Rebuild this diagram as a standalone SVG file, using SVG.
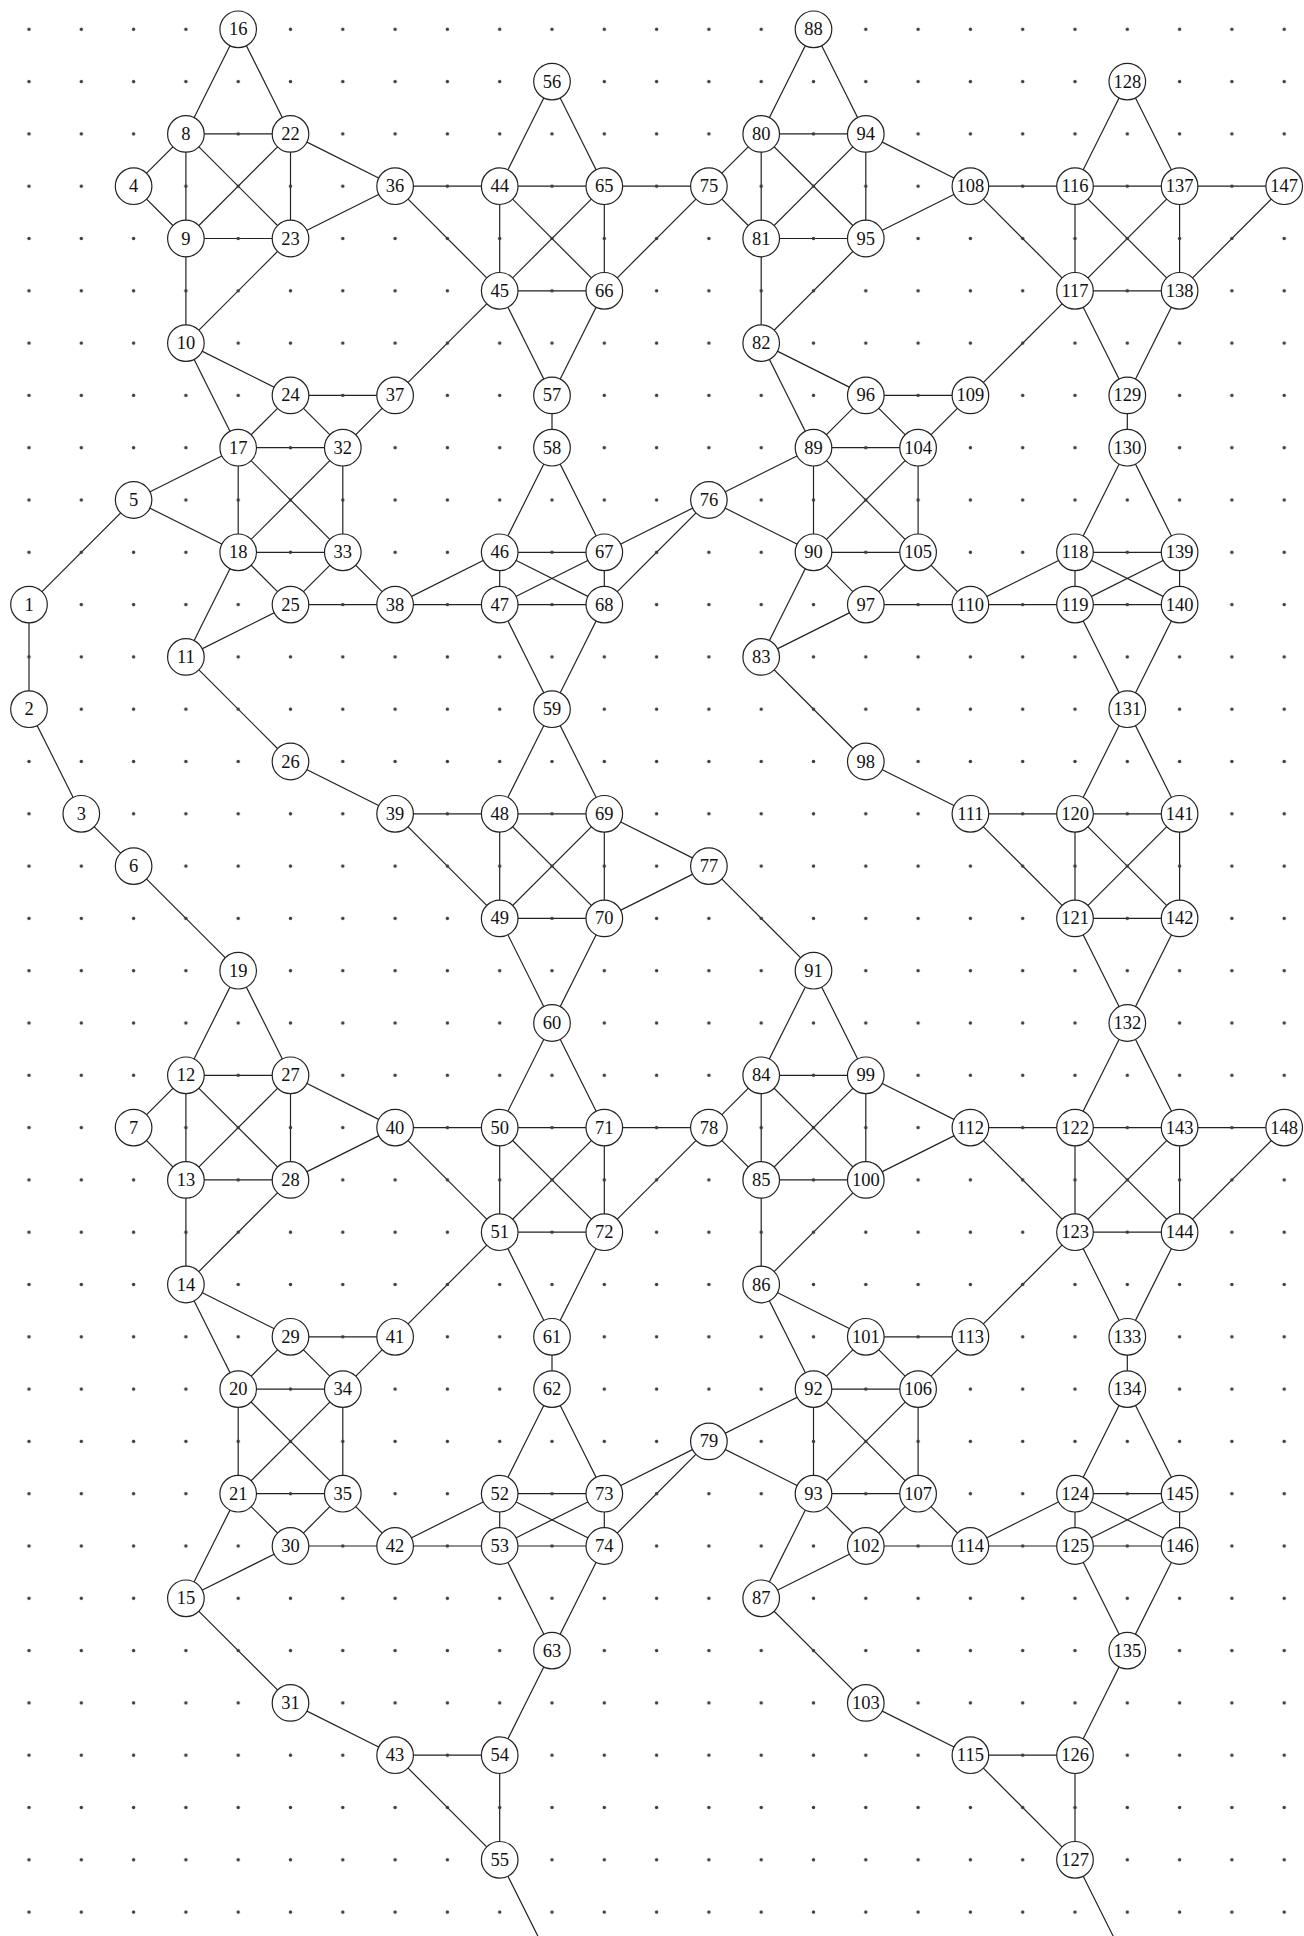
<svg xmlns="http://www.w3.org/2000/svg" width="1304" height="1936" viewBox="0 0 1304 1936">
<style>
.e line{stroke:#222;stroke-width:1.2;fill:none}
.n circle{fill:#fff;stroke:#222;stroke-width:1.2}
.n text{font-family:"Liberation Serif","DejaVu Serif",serif;font-size:18.5px;fill:#111;text-anchor:middle;dominant-baseline:central}
</style>
<defs>
<pattern id="grid" x="2.85" y="3.15" width="52.3" height="52.3" patternUnits="userSpaceOnUse">
<circle cx="26.15" cy="26.15" r="1.7" fill="#3a3a3a"/>
</pattern>
</defs>
<rect width="1304" height="1936" fill="#fff"/>
<g class="e" id="connectors">
<line x1="133.6" y1="500" x2="29" y2="604.6"/>
<line x1="29" y1="604.6" x2="29" y2="709.2"/>
<line x1="29" y1="709.2" x2="81.3" y2="813.8"/>
<line x1="81.3" y1="813.8" x2="133.6" y2="866.1"/>
<line x1="133.6" y1="866.1" x2="238.2" y2="970.7"/>
<line x1="238.2" y1="29.3" x2="185.9" y2="133.9"/>
<line x1="238.2" y1="29.3" x2="290.5" y2="133.9"/>
<line x1="185.9" y1="133.9" x2="290.5" y2="133.9"/>
<line x1="185.9" y1="133.9" x2="133.6" y2="186.2"/>
<line x1="185.9" y1="133.9" x2="185.9" y2="238.5"/>
<line x1="185.9" y1="133.9" x2="290.5" y2="238.5"/>
<line x1="290.5" y1="133.9" x2="185.9" y2="238.5"/>
<line x1="290.5" y1="133.9" x2="290.5" y2="238.5"/>
<line x1="290.5" y1="133.9" x2="395.1" y2="186.2"/>
<line x1="133.6" y1="186.2" x2="185.9" y2="238.5"/>
<line x1="185.9" y1="238.5" x2="290.5" y2="238.5"/>
<line x1="185.9" y1="238.5" x2="185.9" y2="343.1"/>
<line x1="290.5" y1="238.5" x2="395.1" y2="186.2"/>
<line x1="290.5" y1="238.5" x2="185.9" y2="343.1"/>
<line x1="185.9" y1="343.1" x2="290.5" y2="395.4"/>
<line x1="185.9" y1="343.1" x2="238.2" y2="447.7"/>
<line x1="290.5" y1="395.4" x2="395.1" y2="395.4"/>
<line x1="290.5" y1="395.4" x2="238.2" y2="447.7"/>
<line x1="290.5" y1="395.4" x2="342.8" y2="447.7"/>
<line x1="395.1" y1="395.4" x2="342.8" y2="447.7"/>
<line x1="395.1" y1="395.4" x2="499.7" y2="290.8"/>
<line x1="238.2" y1="447.7" x2="342.8" y2="447.7"/>
<line x1="238.2" y1="447.7" x2="133.6" y2="500"/>
<line x1="238.2" y1="447.7" x2="238.2" y2="552.3"/>
<line x1="238.2" y1="447.7" x2="342.8" y2="552.3"/>
<line x1="342.8" y1="447.7" x2="238.2" y2="552.3"/>
<line x1="342.8" y1="447.7" x2="342.8" y2="552.3"/>
<line x1="133.6" y1="500" x2="238.2" y2="552.3"/>
<line x1="238.2" y1="552.3" x2="342.8" y2="552.3"/>
<line x1="238.2" y1="552.3" x2="290.5" y2="604.6"/>
<line x1="238.2" y1="552.3" x2="185.9" y2="656.9"/>
<line x1="342.8" y1="552.3" x2="290.5" y2="604.6"/>
<line x1="342.8" y1="552.3" x2="395.1" y2="604.6"/>
<line x1="290.5" y1="604.6" x2="395.1" y2="604.6"/>
<line x1="290.5" y1="604.6" x2="185.9" y2="656.9"/>
<line x1="185.9" y1="656.9" x2="290.5" y2="761.5"/>
<line x1="290.5" y1="761.5" x2="395.1" y2="813.8"/>
<line x1="238.2" y1="970.7" x2="185.9" y2="1075.3"/>
<line x1="238.2" y1="970.7" x2="290.5" y2="1075.3"/>
<line x1="185.9" y1="1075.3" x2="290.5" y2="1075.3"/>
<line x1="185.9" y1="1075.3" x2="133.6" y2="1127.6"/>
<line x1="185.9" y1="1075.3" x2="185.9" y2="1179.9"/>
<line x1="185.9" y1="1075.3" x2="290.5" y2="1179.9"/>
<line x1="290.5" y1="1075.3" x2="185.9" y2="1179.9"/>
<line x1="290.5" y1="1075.3" x2="290.5" y2="1179.9"/>
<line x1="290.5" y1="1075.3" x2="395.1" y2="1127.6"/>
<line x1="133.6" y1="1127.6" x2="185.9" y2="1179.9"/>
<line x1="185.9" y1="1179.9" x2="290.5" y2="1179.9"/>
<line x1="185.9" y1="1179.9" x2="185.9" y2="1284.5"/>
<line x1="290.5" y1="1179.9" x2="395.1" y2="1127.6"/>
<line x1="290.5" y1="1179.9" x2="185.9" y2="1284.5"/>
<line x1="185.9" y1="1284.5" x2="290.5" y2="1336.8"/>
<line x1="185.9" y1="1284.5" x2="238.2" y2="1389.1"/>
<line x1="290.5" y1="1336.8" x2="395.1" y2="1336.8"/>
<line x1="290.5" y1="1336.8" x2="238.2" y2="1389.1"/>
<line x1="290.5" y1="1336.8" x2="342.8" y2="1389.1"/>
<line x1="395.1" y1="1336.8" x2="342.8" y2="1389.1"/>
<line x1="395.1" y1="1336.8" x2="499.7" y2="1232.2"/>
<line x1="238.2" y1="1389.1" x2="342.8" y2="1389.1"/>
<line x1="238.2" y1="1389.1" x2="238.2" y2="1493.7"/>
<line x1="238.2" y1="1389.1" x2="342.8" y2="1493.7"/>
<line x1="342.8" y1="1389.1" x2="238.2" y2="1493.7"/>
<line x1="342.8" y1="1389.1" x2="342.8" y2="1493.7"/>
<line x1="238.2" y1="1493.7" x2="342.8" y2="1493.7"/>
<line x1="238.2" y1="1493.7" x2="290.5" y2="1546"/>
<line x1="238.2" y1="1493.7" x2="185.9" y2="1598.3"/>
<line x1="342.8" y1="1493.7" x2="290.5" y2="1546"/>
<line x1="342.8" y1="1493.7" x2="395.1" y2="1546"/>
<line x1="290.5" y1="1546" x2="395.1" y2="1546"/>
<line x1="290.5" y1="1546" x2="185.9" y2="1598.3"/>
<line x1="185.9" y1="1598.3" x2="290.5" y2="1702.9"/>
<line x1="290.5" y1="1702.9" x2="395.1" y2="1755.2"/>
<line x1="395.1" y1="186.2" x2="499.7" y2="186.2"/>
<line x1="395.1" y1="186.2" x2="499.7" y2="290.8"/>
<line x1="499.7" y1="186.2" x2="552" y2="81.6"/>
<line x1="499.7" y1="186.2" x2="499.7" y2="290.8"/>
<line x1="499.7" y1="186.2" x2="604.3" y2="290.8"/>
<line x1="499.7" y1="186.2" x2="604.3" y2="186.2"/>
<line x1="552" y1="81.6" x2="604.3" y2="186.2"/>
<line x1="604.3" y1="186.2" x2="499.7" y2="290.8"/>
<line x1="604.3" y1="186.2" x2="604.3" y2="290.8"/>
<line x1="604.3" y1="186.2" x2="708.9" y2="186.2"/>
<line x1="499.7" y1="290.8" x2="604.3" y2="290.8"/>
<line x1="499.7" y1="290.8" x2="552" y2="395.4"/>
<line x1="604.3" y1="290.8" x2="552" y2="395.4"/>
<line x1="604.3" y1="290.8" x2="708.9" y2="186.2"/>
<line x1="552" y1="395.4" x2="552" y2="447.7"/>
<line x1="552" y1="447.7" x2="499.7" y2="552.3"/>
<line x1="552" y1="447.7" x2="604.3" y2="552.3"/>
<line x1="499.7" y1="552.3" x2="395.1" y2="604.6"/>
<line x1="499.7" y1="552.3" x2="499.7" y2="604.6"/>
<line x1="499.7" y1="552.3" x2="604.3" y2="552.3"/>
<line x1="499.7" y1="552.3" x2="604.3" y2="604.6"/>
<line x1="499.7" y1="604.6" x2="395.1" y2="604.6"/>
<line x1="499.7" y1="604.6" x2="604.3" y2="604.6"/>
<line x1="499.7" y1="604.6" x2="604.3" y2="552.3"/>
<line x1="499.7" y1="604.6" x2="552" y2="709.2"/>
<line x1="604.3" y1="552.3" x2="604.3" y2="604.6"/>
<line x1="604.3" y1="552.3" x2="708.9" y2="500"/>
<line x1="604.3" y1="604.6" x2="552" y2="709.2"/>
<line x1="604.3" y1="604.6" x2="708.9" y2="500"/>
<line x1="552" y1="709.2" x2="499.7" y2="813.8"/>
<line x1="552" y1="709.2" x2="604.3" y2="813.8"/>
<line x1="499.7" y1="813.8" x2="395.1" y2="813.8"/>
<line x1="499.7" y1="813.8" x2="604.3" y2="813.8"/>
<line x1="499.7" y1="813.8" x2="499.7" y2="918.4"/>
<line x1="499.7" y1="813.8" x2="604.3" y2="918.4"/>
<line x1="395.1" y1="813.8" x2="499.7" y2="918.4"/>
<line x1="604.3" y1="813.8" x2="499.7" y2="918.4"/>
<line x1="604.3" y1="813.8" x2="604.3" y2="918.4"/>
<line x1="604.3" y1="813.8" x2="708.9" y2="866.1"/>
<line x1="499.7" y1="918.4" x2="604.3" y2="918.4"/>
<line x1="499.7" y1="918.4" x2="552" y2="1023"/>
<line x1="604.3" y1="918.4" x2="552" y2="1023"/>
<line x1="604.3" y1="918.4" x2="708.9" y2="866.1"/>
<line x1="708.9" y1="866.1" x2="813.5" y2="970.7"/>
<line x1="395.1" y1="1127.6" x2="499.7" y2="1127.6"/>
<line x1="395.1" y1="1127.6" x2="499.7" y2="1232.2"/>
<line x1="499.7" y1="1127.6" x2="552" y2="1023"/>
<line x1="499.7" y1="1127.6" x2="499.7" y2="1232.2"/>
<line x1="499.7" y1="1127.6" x2="604.3" y2="1232.2"/>
<line x1="499.7" y1="1127.6" x2="604.3" y2="1127.6"/>
<line x1="552" y1="1023" x2="604.3" y2="1127.6"/>
<line x1="604.3" y1="1127.6" x2="499.7" y2="1232.2"/>
<line x1="604.3" y1="1127.6" x2="604.3" y2="1232.2"/>
<line x1="604.3" y1="1127.6" x2="708.9" y2="1127.6"/>
<line x1="499.7" y1="1232.2" x2="604.3" y2="1232.2"/>
<line x1="499.7" y1="1232.2" x2="552" y2="1336.8"/>
<line x1="604.3" y1="1232.2" x2="552" y2="1336.8"/>
<line x1="604.3" y1="1232.2" x2="708.9" y2="1127.6"/>
<line x1="552" y1="1336.8" x2="552" y2="1389.1"/>
<line x1="552" y1="1389.1" x2="499.7" y2="1493.7"/>
<line x1="552" y1="1389.1" x2="604.3" y2="1493.7"/>
<line x1="499.7" y1="1493.7" x2="395.1" y2="1546"/>
<line x1="499.7" y1="1493.7" x2="499.7" y2="1546"/>
<line x1="499.7" y1="1493.7" x2="604.3" y2="1493.7"/>
<line x1="499.7" y1="1493.7" x2="604.3" y2="1546"/>
<line x1="499.7" y1="1546" x2="395.1" y2="1546"/>
<line x1="499.7" y1="1546" x2="604.3" y2="1546"/>
<line x1="499.7" y1="1546" x2="604.3" y2="1493.7"/>
<line x1="499.7" y1="1546" x2="552" y2="1650.6"/>
<line x1="604.3" y1="1493.7" x2="604.3" y2="1546"/>
<line x1="604.3" y1="1493.7" x2="708.9" y2="1441.4"/>
<line x1="604.3" y1="1546" x2="552" y2="1650.6"/>
<line x1="604.3" y1="1546" x2="708.9" y2="1441.4"/>
<line x1="552" y1="1650.6" x2="499.7" y2="1755.2"/>
<line x1="499.7" y1="1755.2" x2="395.1" y2="1755.2"/>
<line x1="499.7" y1="1755.2" x2="499.7" y2="1859.8"/>
<line x1="395.1" y1="1755.2" x2="499.7" y2="1859.8"/>
<line x1="499.7" y1="1859.8" x2="552" y2="1964.4"/>
<line x1="813.5" y1="29.3" x2="761.2" y2="133.9"/>
<line x1="813.5" y1="29.3" x2="865.8" y2="133.9"/>
<line x1="761.2" y1="133.9" x2="865.8" y2="133.9"/>
<line x1="761.2" y1="133.9" x2="761.2" y2="238.5"/>
<line x1="761.2" y1="133.9" x2="865.8" y2="238.5"/>
<line x1="761.2" y1="133.9" x2="708.9" y2="186.2"/>
<line x1="865.8" y1="133.9" x2="761.2" y2="238.5"/>
<line x1="865.8" y1="133.9" x2="865.8" y2="238.5"/>
<line x1="865.8" y1="133.9" x2="970.4" y2="186.2"/>
<line x1="708.9" y1="186.2" x2="761.2" y2="238.5"/>
<line x1="761.2" y1="238.5" x2="865.8" y2="238.5"/>
<line x1="761.2" y1="238.5" x2="761.2" y2="343.1"/>
<line x1="865.8" y1="238.5" x2="970.4" y2="186.2"/>
<line x1="865.8" y1="238.5" x2="761.2" y2="343.1"/>
<line x1="761.2" y1="343.1" x2="865.8" y2="395.4"/>
<line x1="761.2" y1="343.1" x2="813.5" y2="447.7"/>
<line x1="865.8" y1="395.4" x2="970.4" y2="395.4"/>
<line x1="865.8" y1="395.4" x2="813.5" y2="447.7"/>
<line x1="865.8" y1="395.4" x2="918.1" y2="447.7"/>
<line x1="970.4" y1="395.4" x2="918.1" y2="447.7"/>
<line x1="970.4" y1="395.4" x2="1075" y2="290.8"/>
<line x1="813.5" y1="447.7" x2="918.1" y2="447.7"/>
<line x1="813.5" y1="447.7" x2="813.5" y2="552.3"/>
<line x1="813.5" y1="447.7" x2="918.1" y2="552.3"/>
<line x1="813.5" y1="447.7" x2="708.9" y2="500"/>
<line x1="918.1" y1="447.7" x2="813.5" y2="552.3"/>
<line x1="918.1" y1="447.7" x2="918.1" y2="552.3"/>
<line x1="708.9" y1="500" x2="813.5" y2="552.3"/>
<line x1="813.5" y1="552.3" x2="918.1" y2="552.3"/>
<line x1="813.5" y1="552.3" x2="865.8" y2="604.6"/>
<line x1="813.5" y1="552.3" x2="761.2" y2="656.9"/>
<line x1="918.1" y1="552.3" x2="865.8" y2="604.6"/>
<line x1="918.1" y1="552.3" x2="970.4" y2="604.6"/>
<line x1="865.8" y1="604.6" x2="970.4" y2="604.6"/>
<line x1="865.8" y1="604.6" x2="761.2" y2="656.9"/>
<line x1="761.2" y1="656.9" x2="865.8" y2="761.5"/>
<line x1="865.8" y1="761.5" x2="970.4" y2="813.8"/>
<line x1="813.5" y1="970.7" x2="761.2" y2="1075.3"/>
<line x1="813.5" y1="970.7" x2="865.8" y2="1075.3"/>
<line x1="761.2" y1="1075.3" x2="865.8" y2="1075.3"/>
<line x1="761.2" y1="1075.3" x2="761.2" y2="1179.9"/>
<line x1="761.2" y1="1075.3" x2="865.8" y2="1179.9"/>
<line x1="761.2" y1="1075.3" x2="708.9" y2="1127.6"/>
<line x1="865.8" y1="1075.3" x2="761.2" y2="1179.9"/>
<line x1="865.8" y1="1075.3" x2="865.8" y2="1179.9"/>
<line x1="865.8" y1="1075.3" x2="970.4" y2="1127.6"/>
<line x1="708.9" y1="1127.6" x2="761.2" y2="1179.9"/>
<line x1="761.2" y1="1179.9" x2="865.8" y2="1179.9"/>
<line x1="761.2" y1="1179.9" x2="761.2" y2="1284.5"/>
<line x1="865.8" y1="1179.9" x2="970.4" y2="1127.6"/>
<line x1="865.8" y1="1179.9" x2="761.2" y2="1284.5"/>
<line x1="761.2" y1="1284.5" x2="865.8" y2="1336.8"/>
<line x1="761.2" y1="1284.5" x2="813.5" y2="1389.1"/>
<line x1="865.8" y1="1336.8" x2="970.4" y2="1336.8"/>
<line x1="865.8" y1="1336.8" x2="813.5" y2="1389.1"/>
<line x1="865.8" y1="1336.8" x2="918.1" y2="1389.1"/>
<line x1="970.4" y1="1336.8" x2="918.1" y2="1389.1"/>
<line x1="970.4" y1="1336.8" x2="1075" y2="1232.2"/>
<line x1="813.5" y1="1389.1" x2="918.1" y2="1389.1"/>
<line x1="813.5" y1="1389.1" x2="813.5" y2="1493.7"/>
<line x1="813.5" y1="1389.1" x2="918.1" y2="1493.7"/>
<line x1="813.5" y1="1389.1" x2="708.9" y2="1441.4"/>
<line x1="918.1" y1="1389.1" x2="813.5" y2="1493.7"/>
<line x1="918.1" y1="1389.1" x2="918.1" y2="1493.7"/>
<line x1="708.9" y1="1441.4" x2="813.5" y2="1493.7"/>
<line x1="813.5" y1="1493.7" x2="918.1" y2="1493.7"/>
<line x1="813.5" y1="1493.7" x2="865.8" y2="1546"/>
<line x1="813.5" y1="1493.7" x2="761.2" y2="1598.3"/>
<line x1="918.1" y1="1493.7" x2="865.8" y2="1546"/>
<line x1="918.1" y1="1493.7" x2="970.4" y2="1546"/>
<line x1="865.8" y1="1546" x2="970.4" y2="1546"/>
<line x1="865.8" y1="1546" x2="761.2" y2="1598.3"/>
<line x1="761.2" y1="1598.3" x2="865.8" y2="1702.9"/>
<line x1="865.8" y1="1702.9" x2="970.4" y2="1755.2"/>
<line x1="970.4" y1="186.2" x2="1075" y2="186.2"/>
<line x1="970.4" y1="186.2" x2="1075" y2="290.8"/>
<line x1="1075" y1="186.2" x2="1127.3" y2="81.6"/>
<line x1="1075" y1="186.2" x2="1179.6" y2="186.2"/>
<line x1="1075" y1="186.2" x2="1075" y2="290.8"/>
<line x1="1075" y1="186.2" x2="1179.6" y2="290.8"/>
<line x1="1127.3" y1="81.6" x2="1179.6" y2="186.2"/>
<line x1="1179.6" y1="186.2" x2="1284.2" y2="186.2"/>
<line x1="1179.6" y1="186.2" x2="1075" y2="290.8"/>
<line x1="1179.6" y1="186.2" x2="1179.6" y2="290.8"/>
<line x1="1075" y1="290.8" x2="1179.6" y2="290.8"/>
<line x1="1075" y1="290.8" x2="1127.3" y2="395.4"/>
<line x1="1179.6" y1="290.8" x2="1127.3" y2="395.4"/>
<line x1="1179.6" y1="290.8" x2="1284.2" y2="186.2"/>
<line x1="1127.3" y1="395.4" x2="1127.3" y2="447.7"/>
<line x1="1127.3" y1="447.7" x2="1075" y2="552.3"/>
<line x1="1127.3" y1="447.7" x2="1179.6" y2="552.3"/>
<line x1="1075" y1="552.3" x2="1179.6" y2="552.3"/>
<line x1="1075" y1="552.3" x2="1075" y2="604.6"/>
<line x1="1075" y1="552.3" x2="1179.6" y2="604.6"/>
<line x1="1075" y1="552.3" x2="970.4" y2="604.6"/>
<line x1="1179.6" y1="552.3" x2="1075" y2="604.6"/>
<line x1="1179.6" y1="552.3" x2="1179.6" y2="604.6"/>
<line x1="970.4" y1="604.6" x2="1075" y2="604.6"/>
<line x1="1075" y1="604.6" x2="1179.6" y2="604.6"/>
<line x1="1075" y1="604.6" x2="1127.3" y2="709.2"/>
<line x1="1179.6" y1="604.6" x2="1127.3" y2="709.2"/>
<line x1="1127.3" y1="709.2" x2="1075" y2="813.8"/>
<line x1="1127.3" y1="709.2" x2="1179.6" y2="813.8"/>
<line x1="970.4" y1="813.8" x2="1075" y2="813.8"/>
<line x1="970.4" y1="813.8" x2="1075" y2="918.4"/>
<line x1="1075" y1="813.8" x2="1179.6" y2="813.8"/>
<line x1="1075" y1="813.8" x2="1075" y2="918.4"/>
<line x1="1075" y1="813.8" x2="1179.6" y2="918.4"/>
<line x1="1179.6" y1="813.8" x2="1075" y2="918.4"/>
<line x1="1179.6" y1="813.8" x2="1179.6" y2="918.4"/>
<line x1="1075" y1="918.4" x2="1179.6" y2="918.4"/>
<line x1="1075" y1="918.4" x2="1127.3" y2="1023"/>
<line x1="1179.6" y1="918.4" x2="1127.3" y2="1023"/>
<line x1="970.4" y1="1127.6" x2="1075" y2="1127.6"/>
<line x1="970.4" y1="1127.6" x2="1075" y2="1232.2"/>
<line x1="1075" y1="1127.6" x2="1127.3" y2="1023"/>
<line x1="1075" y1="1127.6" x2="1179.6" y2="1127.6"/>
<line x1="1075" y1="1127.6" x2="1075" y2="1232.2"/>
<line x1="1075" y1="1127.6" x2="1179.6" y2="1232.2"/>
<line x1="1127.3" y1="1023" x2="1179.6" y2="1127.6"/>
<line x1="1179.6" y1="1127.6" x2="1284.2" y2="1127.6"/>
<line x1="1179.6" y1="1127.6" x2="1075" y2="1232.2"/>
<line x1="1179.6" y1="1127.6" x2="1179.6" y2="1232.2"/>
<line x1="1075" y1="1232.2" x2="1179.6" y2="1232.2"/>
<line x1="1075" y1="1232.2" x2="1127.3" y2="1336.8"/>
<line x1="1179.6" y1="1232.2" x2="1127.3" y2="1336.8"/>
<line x1="1179.6" y1="1232.2" x2="1284.2" y2="1127.6"/>
<line x1="1127.3" y1="1336.8" x2="1127.3" y2="1389.1"/>
<line x1="1127.3" y1="1389.1" x2="1075" y2="1493.7"/>
<line x1="1127.3" y1="1389.1" x2="1179.6" y2="1493.7"/>
<line x1="1075" y1="1493.7" x2="1179.6" y2="1493.7"/>
<line x1="1075" y1="1493.7" x2="1075" y2="1546"/>
<line x1="1075" y1="1493.7" x2="1179.6" y2="1546"/>
<line x1="1075" y1="1493.7" x2="970.4" y2="1546"/>
<line x1="1179.6" y1="1493.7" x2="1075" y2="1546"/>
<line x1="1179.6" y1="1493.7" x2="1179.6" y2="1546"/>
<line x1="970.4" y1="1546" x2="1075" y2="1546"/>
<line x1="1075" y1="1546" x2="1179.6" y2="1546"/>
<line x1="1075" y1="1546" x2="1127.3" y2="1650.6"/>
<line x1="1179.6" y1="1546" x2="1127.3" y2="1650.6"/>
<line x1="1127.3" y1="1650.6" x2="1075" y2="1755.2"/>
<line x1="970.4" y1="1755.2" x2="1075" y2="1755.2"/>
<line x1="970.4" y1="1755.2" x2="1075" y2="1859.8"/>
<line x1="1075" y1="1755.2" x2="1075" y2="1859.8"/>
<line x1="1075" y1="1859.8" x2="1127.3" y2="1964.4"/>
</g>
<rect id="grid-dots" width="1304" height="1936" fill="url(#grid)"/>
<g class="n">
<g id="n1"><circle cx="29" cy="604.6" r="18.3"/><text x="29" y="604.6">1</text></g>
<g id="n2"><circle cx="29" cy="709.2" r="18.3"/><text x="29" y="709.2">2</text></g>
<g id="n3"><circle cx="81.3" cy="813.8" r="18.3"/><text x="81.3" y="813.8">3</text></g>
<g id="n4"><circle cx="133.6" cy="186.2" r="18.3"/><text x="133.6" y="186.2">4</text></g>
<g id="n5"><circle cx="133.6" cy="500" r="18.3"/><text x="133.6" y="500">5</text></g>
<g id="n6"><circle cx="133.6" cy="866.1" r="18.3"/><text x="133.6" y="866.1">6</text></g>
<g id="n7"><circle cx="133.6" cy="1127.6" r="18.3"/><text x="133.6" y="1127.6">7</text></g>
<g id="n8"><circle cx="185.9" cy="133.9" r="18.3"/><text x="185.9" y="133.9">8</text></g>
<g id="n9"><circle cx="185.9" cy="238.5" r="18.3"/><text x="185.9" y="238.5">9</text></g>
<g id="n10"><circle cx="185.9" cy="343.1" r="18.3"/><text x="185.9" y="343.1">10</text></g>
<g id="n11"><circle cx="185.9" cy="656.9" r="18.3"/><text x="185.9" y="656.9">11</text></g>
<g id="n12"><circle cx="185.9" cy="1075.3" r="18.3"/><text x="185.9" y="1075.3">12</text></g>
<g id="n13"><circle cx="185.9" cy="1179.9" r="18.3"/><text x="185.9" y="1179.9">13</text></g>
<g id="n14"><circle cx="185.9" cy="1284.5" r="18.3"/><text x="185.9" y="1284.5">14</text></g>
<g id="n15"><circle cx="185.9" cy="1598.3" r="18.3"/><text x="185.9" y="1598.3">15</text></g>
<g id="n16"><circle cx="238.2" cy="29.3" r="18.3"/><text x="238.2" y="29.3">16</text></g>
<g id="n17"><circle cx="238.2" cy="447.7" r="18.3"/><text x="238.2" y="447.7">17</text></g>
<g id="n18"><circle cx="238.2" cy="552.3" r="18.3"/><text x="238.2" y="552.3">18</text></g>
<g id="n19"><circle cx="238.2" cy="970.7" r="18.3"/><text x="238.2" y="970.7">19</text></g>
<g id="n20"><circle cx="238.2" cy="1389.1" r="18.3"/><text x="238.2" y="1389.1">20</text></g>
<g id="n21"><circle cx="238.2" cy="1493.7" r="18.3"/><text x="238.2" y="1493.7">21</text></g>
<g id="n22"><circle cx="290.5" cy="133.9" r="18.3"/><text x="290.5" y="133.9">22</text></g>
<g id="n23"><circle cx="290.5" cy="238.5" r="18.3"/><text x="290.5" y="238.5">23</text></g>
<g id="n24"><circle cx="290.5" cy="395.4" r="18.3"/><text x="290.5" y="395.4">24</text></g>
<g id="n25"><circle cx="290.5" cy="604.6" r="18.3"/><text x="290.5" y="604.6">25</text></g>
<g id="n26"><circle cx="290.5" cy="761.5" r="18.3"/><text x="290.5" y="761.5">26</text></g>
<g id="n27"><circle cx="290.5" cy="1075.3" r="18.3"/><text x="290.5" y="1075.3">27</text></g>
<g id="n28"><circle cx="290.5" cy="1179.9" r="18.3"/><text x="290.5" y="1179.9">28</text></g>
<g id="n29"><circle cx="290.5" cy="1336.8" r="18.3"/><text x="290.5" y="1336.8">29</text></g>
<g id="n30"><circle cx="290.5" cy="1546" r="18.3"/><text x="290.5" y="1546">30</text></g>
<g id="n31"><circle cx="290.5" cy="1702.9" r="18.3"/><text x="290.5" y="1702.9">31</text></g>
<g id="n32"><circle cx="342.8" cy="447.7" r="18.3"/><text x="342.8" y="447.7">32</text></g>
<g id="n33"><circle cx="342.8" cy="552.3" r="18.3"/><text x="342.8" y="552.3">33</text></g>
<g id="n34"><circle cx="342.8" cy="1389.1" r="18.3"/><text x="342.8" y="1389.1">34</text></g>
<g id="n35"><circle cx="342.8" cy="1493.7" r="18.3"/><text x="342.8" y="1493.7">35</text></g>
<g id="n36"><circle cx="395.1" cy="186.2" r="18.3"/><text x="395.1" y="186.2">36</text></g>
<g id="n37"><circle cx="395.1" cy="395.4" r="18.3"/><text x="395.1" y="395.4">37</text></g>
<g id="n38"><circle cx="395.1" cy="604.6" r="18.3"/><text x="395.1" y="604.6">38</text></g>
<g id="n39"><circle cx="395.1" cy="813.8" r="18.3"/><text x="395.1" y="813.8">39</text></g>
<g id="n40"><circle cx="395.1" cy="1127.6" r="18.3"/><text x="395.1" y="1127.6">40</text></g>
<g id="n41"><circle cx="395.1" cy="1336.8" r="18.3"/><text x="395.1" y="1336.8">41</text></g>
<g id="n42"><circle cx="395.1" cy="1546" r="18.3"/><text x="395.1" y="1546">42</text></g>
<g id="n43"><circle cx="395.1" cy="1755.2" r="18.3"/><text x="395.1" y="1755.2">43</text></g>
<g id="n44"><circle cx="499.7" cy="186.2" r="18.3"/><text x="499.7" y="186.2">44</text></g>
<g id="n45"><circle cx="499.7" cy="290.8" r="18.3"/><text x="499.7" y="290.8">45</text></g>
<g id="n46"><circle cx="499.7" cy="552.3" r="18.3"/><text x="499.7" y="552.3">46</text></g>
<g id="n47"><circle cx="499.7" cy="604.6" r="18.3"/><text x="499.7" y="604.6">47</text></g>
<g id="n48"><circle cx="499.7" cy="813.8" r="18.3"/><text x="499.7" y="813.8">48</text></g>
<g id="n49"><circle cx="499.7" cy="918.4" r="18.3"/><text x="499.7" y="918.4">49</text></g>
<g id="n50"><circle cx="499.7" cy="1127.6" r="18.3"/><text x="499.7" y="1127.6">50</text></g>
<g id="n51"><circle cx="499.7" cy="1232.2" r="18.3"/><text x="499.7" y="1232.2">51</text></g>
<g id="n52"><circle cx="499.7" cy="1493.7" r="18.3"/><text x="499.7" y="1493.7">52</text></g>
<g id="n53"><circle cx="499.7" cy="1546" r="18.3"/><text x="499.7" y="1546">53</text></g>
<g id="n54"><circle cx="499.7" cy="1755.2" r="18.3"/><text x="499.7" y="1755.2">54</text></g>
<g id="n55"><circle cx="499.7" cy="1859.8" r="18.3"/><text x="499.7" y="1859.8">55</text></g>
<g id="n56"><circle cx="552" cy="81.6" r="18.3"/><text x="552" y="81.6">56</text></g>
<g id="n57"><circle cx="552" cy="395.4" r="18.3"/><text x="552" y="395.4">57</text></g>
<g id="n58"><circle cx="552" cy="447.7" r="18.3"/><text x="552" y="447.7">58</text></g>
<g id="n59"><circle cx="552" cy="709.2" r="18.3"/><text x="552" y="709.2">59</text></g>
<g id="n60"><circle cx="552" cy="1023" r="18.3"/><text x="552" y="1023">60</text></g>
<g id="n61"><circle cx="552" cy="1336.8" r="18.3"/><text x="552" y="1336.8">61</text></g>
<g id="n62"><circle cx="552" cy="1389.1" r="18.3"/><text x="552" y="1389.1">62</text></g>
<g id="n63"><circle cx="552" cy="1650.6" r="18.3"/><text x="552" y="1650.6">63</text></g>
<g id="n65"><circle cx="604.3" cy="186.2" r="18.3"/><text x="604.3" y="186.2">65</text></g>
<g id="n66"><circle cx="604.3" cy="290.8" r="18.3"/><text x="604.3" y="290.8">66</text></g>
<g id="n67"><circle cx="604.3" cy="552.3" r="18.3"/><text x="604.3" y="552.3">67</text></g>
<g id="n68"><circle cx="604.3" cy="604.6" r="18.3"/><text x="604.3" y="604.6">68</text></g>
<g id="n69"><circle cx="604.3" cy="813.8" r="18.3"/><text x="604.3" y="813.8">69</text></g>
<g id="n70"><circle cx="604.3" cy="918.4" r="18.3"/><text x="604.3" y="918.4">70</text></g>
<g id="n71"><circle cx="604.3" cy="1127.6" r="18.3"/><text x="604.3" y="1127.6">71</text></g>
<g id="n72"><circle cx="604.3" cy="1232.2" r="18.3"/><text x="604.3" y="1232.2">72</text></g>
<g id="n73"><circle cx="604.3" cy="1493.7" r="18.3"/><text x="604.3" y="1493.7">73</text></g>
<g id="n74"><circle cx="604.3" cy="1546" r="18.3"/><text x="604.3" y="1546">74</text></g>
<g id="n75"><circle cx="708.9" cy="186.2" r="18.3"/><text x="708.9" y="186.2">75</text></g>
<g id="n76"><circle cx="708.9" cy="500" r="18.3"/><text x="708.9" y="500">76</text></g>
<g id="n77"><circle cx="708.9" cy="866.1" r="18.3"/><text x="708.9" y="866.1">77</text></g>
<g id="n78"><circle cx="708.9" cy="1127.6" r="18.3"/><text x="708.9" y="1127.6">78</text></g>
<g id="n79"><circle cx="708.9" cy="1441.4" r="18.3"/><text x="708.9" y="1441.4">79</text></g>
<g id="n80"><circle cx="761.2" cy="133.9" r="18.3"/><text x="761.2" y="133.9">80</text></g>
<g id="n81"><circle cx="761.2" cy="238.5" r="18.3"/><text x="761.2" y="238.5">81</text></g>
<g id="n82"><circle cx="761.2" cy="343.1" r="18.3"/><text x="761.2" y="343.1">82</text></g>
<g id="n83"><circle cx="761.2" cy="656.9" r="18.3"/><text x="761.2" y="656.9">83</text></g>
<g id="n84"><circle cx="761.2" cy="1075.3" r="18.3"/><text x="761.2" y="1075.3">84</text></g>
<g id="n85"><circle cx="761.2" cy="1179.9" r="18.3"/><text x="761.2" y="1179.9">85</text></g>
<g id="n86"><circle cx="761.2" cy="1284.5" r="18.3"/><text x="761.2" y="1284.5">86</text></g>
<g id="n87"><circle cx="761.2" cy="1598.3" r="18.3"/><text x="761.2" y="1598.3">87</text></g>
<g id="n88"><circle cx="813.5" cy="29.3" r="18.3"/><text x="813.5" y="29.3">88</text></g>
<g id="n89"><circle cx="813.5" cy="447.7" r="18.3"/><text x="813.5" y="447.7">89</text></g>
<g id="n90"><circle cx="813.5" cy="552.3" r="18.3"/><text x="813.5" y="552.3">90</text></g>
<g id="n91"><circle cx="813.5" cy="970.7" r="18.3"/><text x="813.5" y="970.7">91</text></g>
<g id="n92"><circle cx="813.5" cy="1389.1" r="18.3"/><text x="813.5" y="1389.1">92</text></g>
<g id="n93"><circle cx="813.5" cy="1493.7" r="18.3"/><text x="813.5" y="1493.7">93</text></g>
<g id="n94"><circle cx="865.8" cy="133.9" r="18.3"/><text x="865.8" y="133.9">94</text></g>
<g id="n95"><circle cx="865.8" cy="238.5" r="18.3"/><text x="865.8" y="238.5">95</text></g>
<g id="n96"><circle cx="865.8" cy="395.4" r="18.3"/><text x="865.8" y="395.4">96</text></g>
<g id="n97"><circle cx="865.8" cy="604.6" r="18.3"/><text x="865.8" y="604.6">97</text></g>
<g id="n98"><circle cx="865.8" cy="761.5" r="18.3"/><text x="865.8" y="761.5">98</text></g>
<g id="n99"><circle cx="865.8" cy="1075.3" r="18.3"/><text x="865.8" y="1075.3">99</text></g>
<g id="n100"><circle cx="865.8" cy="1179.9" r="18.3"/><text x="865.8" y="1179.9">100</text></g>
<g id="n101"><circle cx="865.8" cy="1336.8" r="18.3"/><text x="865.8" y="1336.8">101</text></g>
<g id="n102"><circle cx="865.8" cy="1546" r="18.3"/><text x="865.8" y="1546">102</text></g>
<g id="n103"><circle cx="865.8" cy="1702.9" r="18.3"/><text x="865.8" y="1702.9">103</text></g>
<g id="n104"><circle cx="918.1" cy="447.7" r="18.3"/><text x="918.1" y="447.7">104</text></g>
<g id="n105"><circle cx="918.1" cy="552.3" r="18.3"/><text x="918.1" y="552.3">105</text></g>
<g id="n106"><circle cx="918.1" cy="1389.1" r="18.3"/><text x="918.1" y="1389.1">106</text></g>
<g id="n107"><circle cx="918.1" cy="1493.7" r="18.3"/><text x="918.1" y="1493.7">107</text></g>
<g id="n108"><circle cx="970.4" cy="186.2" r="18.3"/><text x="970.4" y="186.2">108</text></g>
<g id="n109"><circle cx="970.4" cy="395.4" r="18.3"/><text x="970.4" y="395.4">109</text></g>
<g id="n110"><circle cx="970.4" cy="604.6" r="18.3"/><text x="970.4" y="604.6">110</text></g>
<g id="n111"><circle cx="970.4" cy="813.8" r="18.3"/><text x="970.4" y="813.8">111</text></g>
<g id="n112"><circle cx="970.4" cy="1127.6" r="18.3"/><text x="970.4" y="1127.6">112</text></g>
<g id="n113"><circle cx="970.4" cy="1336.8" r="18.3"/><text x="970.4" y="1336.8">113</text></g>
<g id="n114"><circle cx="970.4" cy="1546" r="18.3"/><text x="970.4" y="1546">114</text></g>
<g id="n115"><circle cx="970.4" cy="1755.2" r="18.3"/><text x="970.4" y="1755.2">115</text></g>
<g id="n116"><circle cx="1075" cy="186.2" r="18.3"/><text x="1075" y="186.2">116</text></g>
<g id="n117"><circle cx="1075" cy="290.8" r="18.3"/><text x="1075" y="290.8">117</text></g>
<g id="n118"><circle cx="1075" cy="552.3" r="18.3"/><text x="1075" y="552.3">118</text></g>
<g id="n119"><circle cx="1075" cy="604.6" r="18.3"/><text x="1075" y="604.6">119</text></g>
<g id="n120"><circle cx="1075" cy="813.8" r="18.3"/><text x="1075" y="813.8">120</text></g>
<g id="n121"><circle cx="1075" cy="918.4" r="18.3"/><text x="1075" y="918.4">121</text></g>
<g id="n122"><circle cx="1075" cy="1127.6" r="18.3"/><text x="1075" y="1127.6">122</text></g>
<g id="n123"><circle cx="1075" cy="1232.2" r="18.3"/><text x="1075" y="1232.2">123</text></g>
<g id="n124"><circle cx="1075" cy="1493.7" r="18.3"/><text x="1075" y="1493.7">124</text></g>
<g id="n125"><circle cx="1075" cy="1546" r="18.3"/><text x="1075" y="1546">125</text></g>
<g id="n126"><circle cx="1075" cy="1755.2" r="18.3"/><text x="1075" y="1755.2">126</text></g>
<g id="n127"><circle cx="1075" cy="1859.8" r="18.3"/><text x="1075" y="1859.8">127</text></g>
<g id="n128"><circle cx="1127.3" cy="81.6" r="18.3"/><text x="1127.3" y="81.6">128</text></g>
<g id="n129"><circle cx="1127.3" cy="395.4" r="18.3"/><text x="1127.3" y="395.4">129</text></g>
<g id="n130"><circle cx="1127.3" cy="447.7" r="18.3"/><text x="1127.3" y="447.7">130</text></g>
<g id="n131"><circle cx="1127.3" cy="709.2" r="18.3"/><text x="1127.3" y="709.2">131</text></g>
<g id="n132"><circle cx="1127.3" cy="1023" r="18.3"/><text x="1127.3" y="1023">132</text></g>
<g id="n133"><circle cx="1127.3" cy="1336.8" r="18.3"/><text x="1127.3" y="1336.8">133</text></g>
<g id="n134"><circle cx="1127.3" cy="1389.1" r="18.3"/><text x="1127.3" y="1389.1">134</text></g>
<g id="n135"><circle cx="1127.3" cy="1650.6" r="18.3"/><text x="1127.3" y="1650.6">135</text></g>
<g id="n137"><circle cx="1179.6" cy="186.2" r="18.3"/><text x="1179.6" y="186.2">137</text></g>
<g id="n138"><circle cx="1179.6" cy="290.8" r="18.3"/><text x="1179.6" y="290.8">138</text></g>
<g id="n139"><circle cx="1179.6" cy="552.3" r="18.3"/><text x="1179.6" y="552.3">139</text></g>
<g id="n140"><circle cx="1179.6" cy="604.6" r="18.3"/><text x="1179.6" y="604.6">140</text></g>
<g id="n141"><circle cx="1179.6" cy="813.8" r="18.3"/><text x="1179.6" y="813.8">141</text></g>
<g id="n142"><circle cx="1179.6" cy="918.4" r="18.3"/><text x="1179.6" y="918.4">142</text></g>
<g id="n143"><circle cx="1179.6" cy="1127.6" r="18.3"/><text x="1179.6" y="1127.6">143</text></g>
<g id="n144"><circle cx="1179.6" cy="1232.2" r="18.3"/><text x="1179.6" y="1232.2">144</text></g>
<g id="n145"><circle cx="1179.6" cy="1493.7" r="18.3"/><text x="1179.6" y="1493.7">145</text></g>
<g id="n146"><circle cx="1179.6" cy="1546" r="18.3"/><text x="1179.6" y="1546">146</text></g>
<g id="n147"><circle cx="1284.2" cy="186.2" r="18.3"/><text x="1284.2" y="186.2">147</text></g>
<g id="n148"><circle cx="1284.2" cy="1127.6" r="18.3"/><text x="1284.2" y="1127.6">148</text></g>
</g>
</svg>
